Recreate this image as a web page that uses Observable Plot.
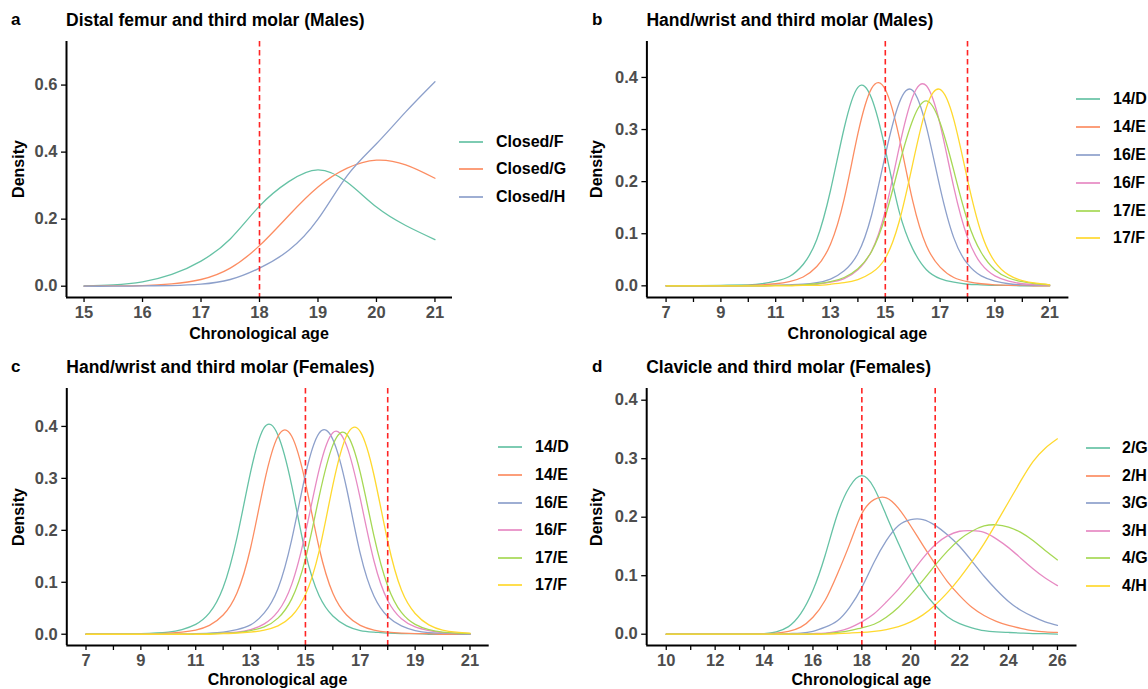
<!DOCTYPE html>
<html>
<head>
<meta charset="utf-8">
<script src="https://cdn.jsdelivr.net/npm/d3@7"></script>
<script src="https://cdn.jsdelivr.net/npm/@observablehq/plot@0.6"></script>
<style>
  body { margin: 0; background: #fff; }
  #root { position: relative; width: 1148px; height: 689px; overflow: hidden; background: #fff;
          font-family: "Liberation Sans", Arial, sans-serif; color: #000; }
  .panel { position: absolute; }
  .ptitle { position: absolute; font-weight: bold; font-size: 17.5px; white-space: nowrap; line-height: 1; }
  .tag { position: absolute; font-weight: bold; font-size: 17px; line-height: 1; }
  .xt { position: absolute; font-weight: bold; font-size: 16px; white-space: nowrap; transform: translate(-50%, -50%); line-height: 1; }
  .yt { position: absolute; font-weight: bold; font-size: 16px; white-space: nowrap; transform: translate(-50%, -50%) rotate(-90deg); line-height: 1; }
  .key { position: absolute; width: 24px; height: 4px; line-height: 0; font-size: 0; }
  .key svg { display: block; }
  .ltxt { position: absolute; font-weight: bold; font-size: 16px; white-space: nowrap; transform: translateY(-50%); line-height: 1; }
  svg g[aria-label="x-axis tick label"], svg g[aria-label="y-axis tick label"] { fill: #4d4d4d; font-weight: bold; }
</style>
</head>
<body>
<div id="root"></div>
<script>
// ---------------- DATA ----------------
const setColors = ["#66C2A5", "#FC8D62", "#8DA0CB", "#E78AC3", "#A6D854", "#FFD92F"];

// Panel a: Distal femur and third molar (Males)
const titleA = "Distal femur and third molar (Males)";
const agesA = [15, 15.5, 16, 16.5, 17, 17.5, 18, 18.5, 19, 19.5, 20, 20.5, 21];
const namesA = ["Closed/F", "Closed/G", "Closed/H"];
const aClosedF = [0.001, 0.004, 0.013, 0.035, 0.075, 0.141, 0.239, 0.312, 0.347, 0.310, 0.236, 0.181, 0.139];
const aClosedG = [0, 0.001, 0.002, 0.007, 0.020, 0.054, 0.121, 0.211, 0.296, 0.352, 0.376, 0.362, 0.322];
const aClosedH = [0, 0, 0.001, 0.002, 0.006, 0.020, 0.054, 0.107, 0.200, 0.330, 0.425, 0.520, 0.610];
const cutA = [18];
const xTicksA = [15, 16, 17, 18, 19, 20, 21];
const yTicksA = [0, 0.2, 0.4, 0.6];

// Panel b: Hand/wrist and third molar (Males)
const titleB = "Hand/wrist and third molar (Males)";
const agesBC = [7, 8, 9, 10, 10.5, 11, 11.5, 12, 12.5, 13, 13.5, 14, 14.5, 15, 15.5, 16, 16.5, 17, 17.5, 18, 18.5, 19, 19.5, 20, 20.5, 21];
const namesBC = ["14/D", "14/E", "16/E", "16/F", "17/E", "17/F"];
const b14D = [0, 0, 0.001, 0.002, 0.004, 0.009, 0.018, 0.041, 0.089, 0.183, 0.303, 0.381, 0.360, 0.262, 0.144, 0.071, 0.031, 0.014, 0.007, 0.003, 0.002, 0.001, 0.001, 0, 0, 0];
const b14E = [0, 0, 0, 0.001, 0.002, 0.004, 0.008, 0.017, 0.037, 0.080, 0.167, 0.292, 0.379, 0.377, 0.287, 0.163, 0.077, 0.036, 0.016, 0.008, 0.004, 0.002, 0.001, 0.001, 0, 0];
const b16E = [0, 0, 0, 0, 0, 0.001, 0.002, 0.003, 0.006, 0.013, 0.029, 0.062, 0.136, 0.251, 0.350, 0.375, 0.305, 0.188, 0.092, 0.042, 0.019, 0.009, 0.004, 0.002, 0.001, 0.001];
const b16F = [0, 0, 0, 0, 0, 0.001, 0.001, 0.002, 0.003, 0.007, 0.014, 0.031, 0.067, 0.144, 0.264, 0.363, 0.384, 0.310, 0.189, 0.093, 0.042, 0.019, 0.009, 0.004, 0.002, 0.001];
const b17E = [0, 0, 0, 0, 0, 0.001, 0.001, 0.002, 0.004, 0.008, 0.016, 0.033, 0.066, 0.133, 0.231, 0.318, 0.355, 0.313, 0.221, 0.125, 0.064, 0.031, 0.015, 0.008, 0.004, 0.002];
const b17F = [0, 0, 0, 0, 0, 0, 0, 0.001, 0.001, 0.003, 0.006, 0.012, 0.025, 0.053, 0.122, 0.234, 0.342, 0.377, 0.319, 0.204, 0.102, 0.046, 0.021, 0.010, 0.005, 0.002];
const cutBC = [15, 18];
const xTicksBC = [7, 8, 9, 10, 11, 12, 13, 14, 15, 16, 17, 18, 19, 20, 21];
const yTicksBC = [0, 0.1, 0.2, 0.3, 0.4];

// Panel c: Hand/wrist and third molar (Females)
const titleC = "Hand/wrist and third molar (Females)";
const c14D = [0, 0, 0.001, 0.004, 0.009, 0.019, 0.041, 0.090, 0.185, 0.312, 0.398, 0.383, 0.286, 0.157, 0.074, 0.035, 0.016, 0.007, 0.004, 0.002, 0.001, 0.001, 0, 0, 0, 0];
const c14E = [0, 0, 0, 0.002, 0.004, 0.008, 0.017, 0.037, 0.079, 0.166, 0.292, 0.381, 0.381, 0.292, 0.166, 0.079, 0.037, 0.017, 0.008, 0.004, 0.002, 0.001, 0.001, 0, 0, 0];
const c16E = [0, 0, 0, 0, 0, 0.001, 0.002, 0.004, 0.009, 0.018, 0.041, 0.088, 0.182, 0.307, 0.387, 0.375, 0.281, 0.155, 0.073, 0.034, 0.016, 0.007, 0.003, 0.002, 0.001, 0];
const c16F = [0, 0, 0, 0, 0, 0, 0.001, 0.002, 0.004, 0.009, 0.020, 0.044, 0.096, 0.195, 0.317, 0.388, 0.363, 0.261, 0.141, 0.065, 0.030, 0.014, 0.007, 0.003, 0.002, 0.001];
const c17E = [0, 0, 0, 0, 0, 0, 0.001, 0.002, 0.003, 0.007, 0.014, 0.031, 0.068, 0.145, 0.265, 0.364, 0.385, 0.311, 0.189, 0.093, 0.042, 0.019, 0.009, 0.004, 0.002, 0.001];
const c17F = [0, 0, 0, 0, 0, 0, 0, 0.001, 0.002, 0.004, 0.008, 0.016, 0.035, 0.076, 0.160, 0.287, 0.382, 0.390, 0.306, 0.179, 0.085, 0.040, 0.018, 0.008, 0.004, 0.002];

// Panel d: Clavicle and third molar (Females)
const titleD = "Clavicle and third molar (Females)";
const agesD = [10, 12, 13, 14, 14.5, 15, 15.5, 16, 16.5, 17, 17.5, 18, 18.5, 19, 19.5, 20, 20.5, 21, 21.5, 22, 22.5, 23, 23.5, 24, 24.5, 25, 25.5, 26];
const namesD = ["2/G", "2/H", "3/G", "3/H", "4/G", "4/H"];
const d2G = [0, 0, 0, 0.001, 0.004, 0.013, 0.035, 0.075, 0.135, 0.205, 0.252, 0.271, 0.250, 0.203, 0.155, 0.110, 0.075, 0.049, 0.030, 0.018, 0.011, 0.006, 0.004, 0.003, 0.002, 0.001, 0.001, 0];
const d2H = [0, 0, 0, 0.001, 0.002, 0.005, 0.012, 0.029, 0.058, 0.103, 0.154, 0.206, 0.230, 0.233, 0.215, 0.185, 0.152, 0.120, 0.090, 0.066, 0.046, 0.032, 0.022, 0.015, 0.010, 0.006, 0.004, 0.003];
const d3G = [0, 0, 0, 0, 0, 0.001, 0.002, 0.005, 0.012, 0.023, 0.046, 0.080, 0.123, 0.160, 0.186, 0.196, 0.196, 0.186, 0.170, 0.150, 0.125, 0.099, 0.076, 0.056, 0.041, 0.030, 0.021, 0.015];
const d3H = [0, 0, 0, 0, 0, 0, 0, 0.001, 0.002, 0.005, 0.011, 0.021, 0.035, 0.055, 0.077, 0.103, 0.130, 0.153, 0.168, 0.176, 0.177, 0.174, 0.163, 0.148, 0.130, 0.112, 0.096, 0.083];
const d4G = [0, 0, 0, 0, 0, 0, 0, 0, 0.001, 0.003, 0.006, 0.011, 0.017, 0.029, 0.046, 0.068, 0.092, 0.118, 0.142, 0.162, 0.176, 0.185, 0.187, 0.183, 0.174, 0.160, 0.143, 0.127];
const d4H = [0, 0, 0, 0, 0, 0, 0, 0, 0, 0.001, 0.002, 0.003, 0.005, 0.008, 0.013, 0.021, 0.033, 0.050, 0.071, 0.096, 0.124, 0.155, 0.190, 0.226, 0.262, 0.295, 0.318, 0.334];
const cutD = [18, 21];
const xTicksD = [10, 11, 12, 13, 14, 15, 16, 17, 18, 19, 20, 21, 22, 23, 24, 25, 26];
const yTicksD = [0, 0.1, 0.2, 0.3, 0.4];

// ---------------- DRAWING ----------------
const root = document.getElementById("root");
const FONT = '"Liberation Sans", Arial, sans-serif';
const SVGNS = "http://www.w3.org/2000/svg";

function el(cls, text, css) {
  const d = document.createElement("div");
  d.className = cls;
  if (text != null) d.textContent = text;
  Object.assign(d.style, css);
  root.appendChild(d);
  return d;
}

function keySwatch(color, x, y) {
  const d = el("key", null, {left: x + "px", top: (y - 2) + "px"});
  const s = document.createElementNS(SVGNS, "svg");
  s.setAttribute("width", "24"); s.setAttribute("height", "4");
  const l = document.createElementNS(SVGNS, "line");
  l.setAttribute("x1", "0"); l.setAttribute("x2", "24");
  l.setAttribute("y1", "2"); l.setAttribute("y2", "2");
  l.setAttribute("stroke", color); l.setAttribute("stroke-width", "1.7");
  s.appendChild(l); d.appendChild(s);
}

function drawPanel(p) {
  const rows = [];
  p.series.forEach((vals, i) => {
    p.ages.forEach((a, j) => rows.push({age: a, density: vals[j], key: p.names[i]}));
  });
  const chart = Plot.plot({
    width: p.w, height: p.h,
    marginLeft: p.ml, marginRight: p.mr, marginTop: p.mt, marginBottom: p.mb,
    style: {fontFamily: FONT, fontSize: "16.5px", background: "transparent", overflow: "visible"},
    x: {domain: p.xDomain},
    y: {domain: p.yDomain},
    color: {domain: p.names, range: setColors.slice(0, p.names.length)},
    marks: [
      Plot.line(rows, {x: "age", y: "density", z: "key", stroke: "key", strokeWidth: 1.3, curve: "natural"}),
      Plot.ruleX(p.cuts, {stroke: "#FF2424", strokeWidth: 1.6, strokeDasharray: "5.5,3.5"}),
      Plot.ruleX([p.xDomain[0]], {stroke: "#000", strokeWidth: 2}),
      Plot.ruleY([p.yDomain[0]], {stroke: "#000", strokeWidth: 2}),
      Plot.axisX({ticks: p.xTicks, tickFormat: p.xFmt, tickSize: 5, tickPadding: 4, label: null, stroke: "#000", strokeWidth: 1.3}),
      Plot.axisY({ticks: p.yTicks, tickFormat: d3.format(".1f"), tickSize: 5, tickPadding: 4, label: null, stroke: "#000", strokeWidth: 1.3})
    ]
  });
  const holder = el("panel", null, {left: p.left + "px", top: p.top + "px", width: p.w + "px", height: p.h + "px"});
  holder.appendChild(chart);

  // panel letter + title
  el("tag", p.tag, {left: (p.left + p.tagX) + "px", top: (p.top + p.tagY) + "px"});
  el("ptitle", p.title, {left: (p.left + p.ml) + "px", top: (p.top + p.titleY) + "px"});
  // axis titles
  el("xt", "Chronological age", {left: (p.left + (p.ml + p.w - p.mr) / 2) + "px", top: (p.top + p.xtY) + "px"});
  el("yt", "Density", {left: (p.left + p.ytX) + "px", top: (p.top + (p.mt + p.h - p.mb) / 2) + "px"});
  // legend
  p.names.forEach((n, i) => {
    const y = p.top + p.legY + i * p.legStep;
    keySwatch(setColors[i], p.legKeyX, y);
    el("ltxt", n, {left: p.legTxtX + "px", top: y + "px"});
  });
}

const odd = d => (d % 2 === 1 ? String(d) : "");
const even = d => (d % 2 === 0 ? String(d) : "");

drawPanel({
  tag: "a", title: titleA, left: 0, top: 0, w: 574, h: 345,
  ml: 66, mr: 122, mt: 41, mb: 48,
  xDomain: [14.7, 21.3], yDomain: [-0.0337, 0.73],
  ages: agesA, names: namesA, series: [aClosedF, aClosedG, aClosedH],
  cuts: cutA, xTicks: xTicksA, yTicks: yTicksA, xFmt: d => String(d),
  tagX: 11, tagY: 11, titleY: 12, xtY: 334, ytX: 19,
  legY: 141.5, legStep: 27.6, legKeyX: 459, legTxtX: 496
});
drawPanel({
  tag: "b", title: titleB, left: 574, top: 0, w: 574, h: 345,
  ml: 72.4, mr: 79.6, mt: 41, mb: 48,
  xDomain: [6.3, 21.7], yDomain: [-0.0224, 0.469],
  ages: agesBC, names: namesBC, series: [b14D, b14E, b16E, b16F, b17E, b17F],
  cuts: cutBC, xTicks: xTicksBC, yTicks: yTicksBC, xFmt: odd,
  tagX: 18, tagY: 11, titleY: 12, xtY: 334, ytX: 23,
  legY: 99.3, legStep: 27.8, legKeyX: 1076, legTxtX: 1113
});
drawPanel({
  tag: "c", title: titleC, left: 0, top: 345, w: 574, h: 344,
  ml: 66.3, mr: 85.3, mt: 43, mb: 44,
  xDomain: [6.3, 21.7], yDomain: [-0.0217, 0.473],
  ages: agesBC, names: namesBC, series: [c14D, c14E, c16E, c16F, c17E, c17F],
  cuts: cutBC, xTicks: xTicksBC, yTicks: yTicksBC, xFmt: odd,
  tagX: 11, tagY: 13, titleY: 14, xtY: 335, ytX: 19,
  legY: 102.3, legStep: 27.6, legKeyX: 498, legTxtX: 535
});
drawPanel({
  tag: "d", title: titleD, left: 574, top: 345, w: 574, h: 344,
  ml: 72.2, mr: 71.5, mt: 43, mb: 44,
  xDomain: [9.2, 26.8], yDomain: [-0.0193, 0.42],
  ages: agesD, names: namesD, series: [d2G, d2H, d3G, d3H, d4G, d4H],
  cuts: cutD, xTicks: xTicksD, yTicks: yTicksD, xFmt: even,
  tagX: 18, tagY: 13, titleY: 14, xtY: 335, ytX: 23,
  legY: 103.3, legStep: 27.5, legKeyX: 1086, legTxtX: 1122
});
</script>
</body>
</html>
